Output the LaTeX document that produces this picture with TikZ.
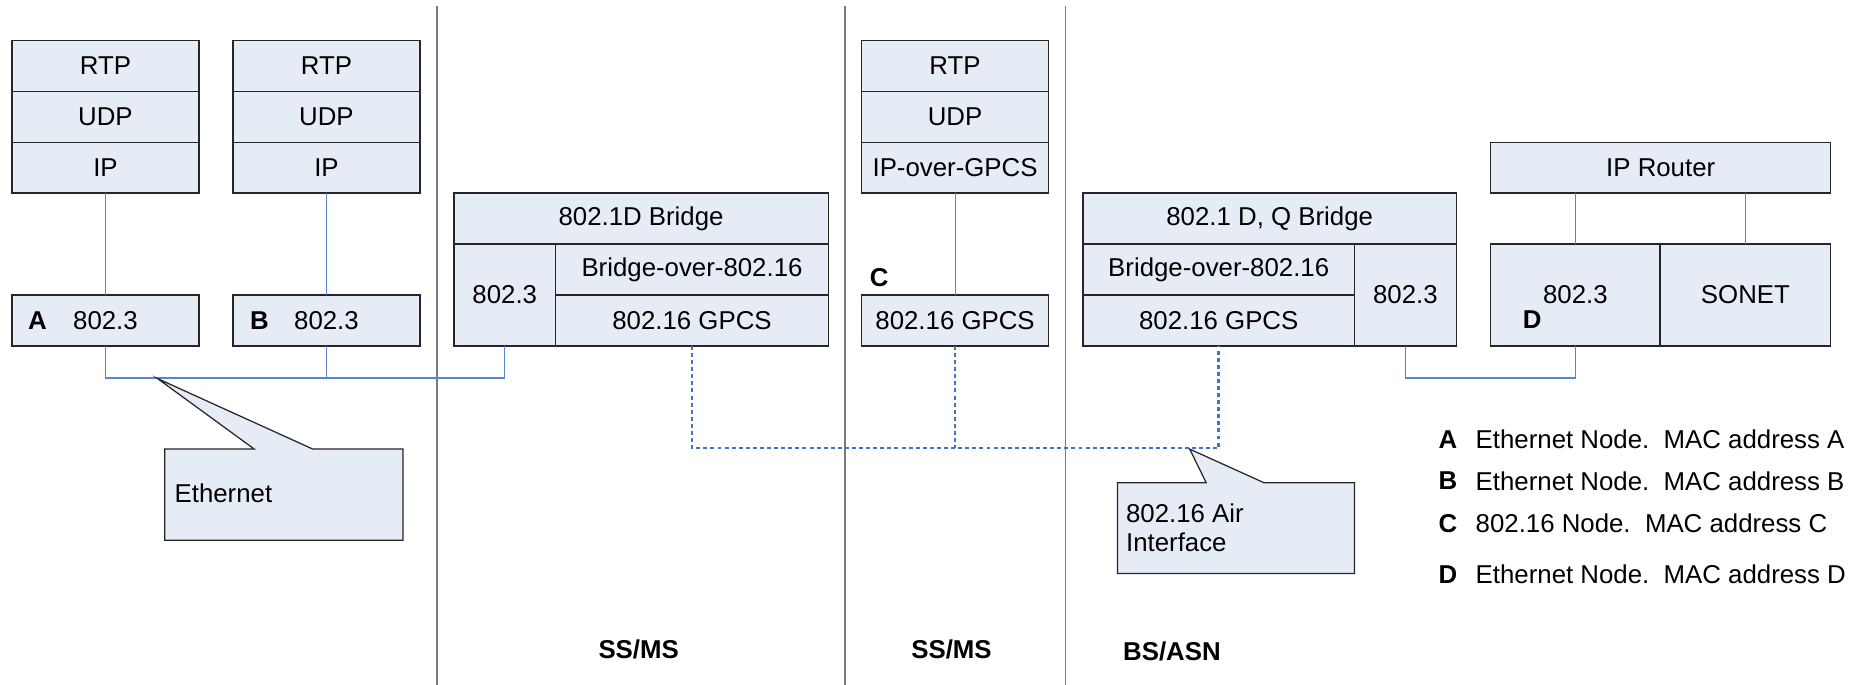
\documentclass[tikz,border=0pt]{standalone}
\usepackage{fontspec}
\setmainfont{Liberation Sans}
\definecolor{layerfill}{HTML}{E6ECF6}
\definecolor{linkblue}{HTML}{5A84CC}
\definecolor{airblue}{HTML}{4472C4}
\tikzset{
  layer/.style 2 args={
    draw=black!85,fill=layerfill,line width=0.65pt,
    inner sep=0pt,outer sep=0pt,
    minimum width=#1*0.02cm,minimum height=#2*0.02cm,
    font=\fontsize{12.4}{14}\selectfont
  },
  link/.style={draw=linkblue,line width=0.5pt},
  airlink/.style={draw=airblue,line width=1.3pt,dash pattern=on 1.9pt off 1.5pt},
  divider/.style={draw=black!52,line width=0.75pt},
  callout/.style={draw=black!85,fill=layerfill,line width=0.6pt},
  tag/.style={inner sep=0pt,font=\fontsize{12.4}{14}\selectfont\bfseries},
  plain/.style={inner sep=0pt,font=\fontsize{12.4}{14.2}\selectfont}
}
\begin{document}
\begin{tikzpicture}[x=0.02cm,y=-0.02cm]
\useasboundingbox (0,0) rectangle (1568,578);
% domain dividers
\draw[divider] (369,5) -- (369,578);
\draw[divider] (713,5) -- (713,578);
\draw[divider] (899,5) -- (899,578);
% host A
\node[layer={158}{43}] (rtpA) at (89,55.5) {RTP};
\node[layer={158}{43}] (udpA) at (89,98.5) {UDP};
\node[layer={158}{43}] (ipA) at (89,141.5) {IP};
\node[layer={158}{43}] (ethA) at (89,270.5) {802.3};
\node[tag] (tagA) at (31.7,270.5) {A};
% host B
\node[layer={158}{43}] (rtpB) at (275.5,55.5) {RTP};
\node[layer={158}{43}] (udpB) at (275.5,98.5) {UDP};
\node[layer={158}{43}] (ipB) at (275.5,141.5) {IP};
\node[layer={158}{43}] (ethB) at (275.5,270.5) {802.3};
\node[tag] (tagB) at (219,270.5) {B};
% SS/MS bridge
\node[layer={316}{43}] (bridgeS) at (541,184.5) {802.1D Bridge};
\node[layer={86}{86}] (ethS) at (426,249) {802.3};
\node[layer={230}{43}] (bovS) at (584,227.5) {Bridge-over-802.16};
\node[layer={230}{43}] (gpcsS) at (584,270.5) {802.16 GPCS};
% SS/MS host C
\node[layer={158}{43}] (rtpC) at (806,55.5) {RTP};
\node[layer={158}{43}] (udpC) at (806,98.5) {UDP};
\node[layer={158}{43}] (ipC) at (806,141.5) {IP-over-GPCS};
\node[layer={158}{43}] (gpcsC) at (806,270.5) {802.16 GPCS};
\node[tag] (tagC) at (742,234) {C};
% BS/ASN bridge
\node[layer={315}{43}] (bridgeB) at (1071.5,184.5) {802.1 D, Q Bridge};
\node[layer={229}{43}] (bovB) at (1028.5,227.5) {Bridge-over-802.16};
\node[layer={229}{43}] (gpcsB) at (1028.5,270.5) {802.16 GPCS};
\node[layer={86}{86}] (ethB2) at (1186,249) {802.3};
% router D
\node[layer={287}{43}] (router) at (1401.5,141.5) {IP Router};
\node[layer={143}{86}] (ethD) at (1329.5,249) {802.3};
\node[layer={144}{86}] (sonet) at (1473,249) {SONET};
\node[tag] (tagD) at (1293,270) {D};
% wired links
\draw[link] (ipA) -- (ethA);
\draw[link] (ipB) -- (ethB);
\draw[link] (ipC) -- (gpcsC);
\coordinate (lan) at (426,319);
\draw[link] (ethA.south) |- (lan) -- (ethS.south);
\draw[link] (ethB.south) -- (ethB.south |- lan);
\coordinate (wan) at (1329.5,319);
\draw[link] (ethB2.south) |- (wan) -- (ethD.south);
\draw[link] (router.south -| ethD) -- (ethD);
\draw[link] (router.south -| sonet) -- (sonet);
% air interface
\coordinate (air) at (1028.5,378);
\draw[airlink] (gpcsS.south) |- (air) -- (gpcsB.south);
\draw[airlink] (gpcsC.south) -- (gpcsC.south |- air);
% callouts
\draw[callout] (139,379) -- (214.6,379) -- (133,319.5) -- (264,379) -- (340,379)
  -- (340,456) -- (139,456) -- cycle;
\node[plain,anchor=west] (ethtext) at (147,416) {Ethernet};
\draw[callout] (943,407.5) -- (1018,407.5) -- (1004,379) -- (1067,407.5) -- (1143,407.5)
  -- (1143,484) -- (943,484) -- cycle;
\node[plain,anchor=west,align=left] (airtext) at (950,445.5) {802.16 Air\\Interface};
% domain names
\node[tag] (ss1) at (539,548) {SS/MS};
\node[tag] (ss2) at (803,548) {SS/MS};
\node[tag] (bs) at (989,550) {BS/ASN};
% legend
\node[tag] (keyA) at (1222,371) {A};
\node[plain,anchor=west] (txtA) at (1245,371) {Ethernet Node.\ \ MAC address A};
\node[tag] (keyB) at (1222,406) {B};
\node[plain,anchor=west] (txtB) at (1245,406) {Ethernet Node.\ \ MAC address B};
\node[tag] (keyC) at (1222,442) {C};
\node[plain,anchor=west] (txtC) at (1245,442) {802.16 Node.\ \ MAC address C};
\node[tag] (keyD) at (1222,485) {D};
\node[plain,anchor=west] (txtD) at (1245,485) {Ethernet Node.\ \ MAC address D};
\end{tikzpicture}
\end{document}
